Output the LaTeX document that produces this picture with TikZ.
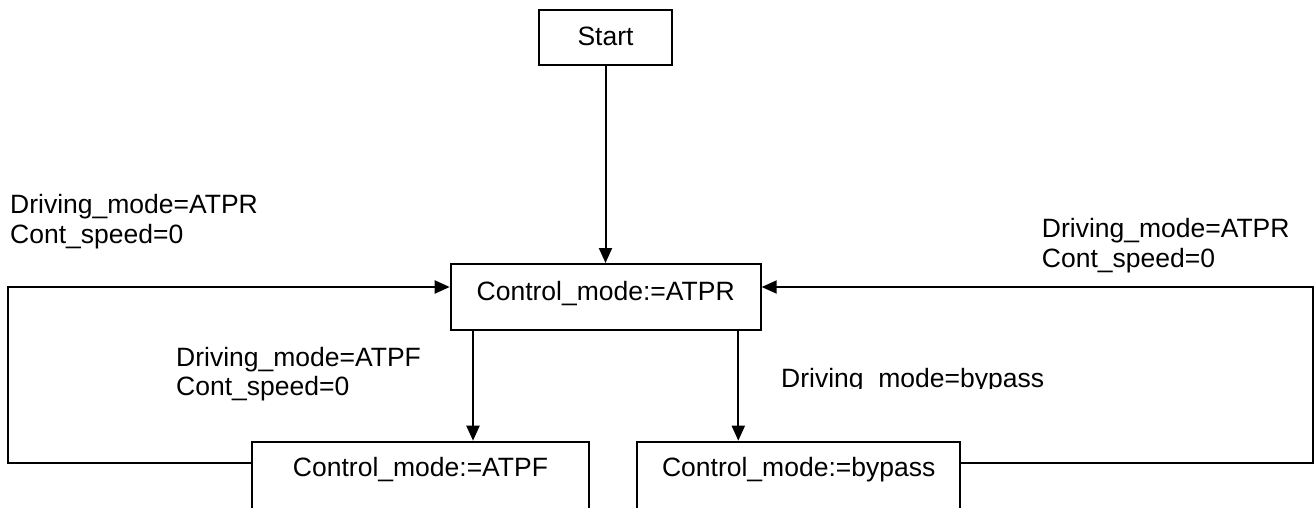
\documentclass[tikz,border=0pt]{standalone}
\usepackage{fontspec}
\setmainfont{Liberation Sans}
\usetikzlibrary{arrows.meta}

\begin{document}
\begin{tikzpicture}[x=1pt, y=-1pt,
  every node/.style={font=\fontsize{26.5}{30}\selectfont},
  statebox/.style={draw, line width=2pt, rectangle, inner sep=0pt, minimum height=66},
  lbl/.style={anchor=base west, inner sep=0pt},
  conn/.style={line width=2pt, -{Triangle[length=15pt,width=13pt]}}]

  % page frame
  \clip (0,0) rectangle (1314,507);
  \fill[white] (0,0) rectangle (1314,507);

  % states
  \node[statebox, minimum width=133, minimum height=55, text height=35, text depth=20]
    (start) at (605.5,37.5) {Start};
  \node[statebox, minimum width=310, text height=36, text depth=30]
    (atpr) at (605.7,297) {Control\_mode:=ATPR};
  \node[statebox, minimum width=337.6, minimum height=76, text height=35, text depth=41]
    (atpf) at (420.5,479.7) {Control\_mode:=ATPF};
  \node[statebox, minimum width=322.7, minimum height=76, text height=35, text depth=41]
    (bypass) at (798.7,479.7) {Control\_mode:=bypass};

  % transition guards
  \node[lbl] (gl1) at (10,213) {Driving\_mode=ATPR};
  \node[lbl] (gl2) at (10,243) {Cont\_speed=0};
  \node[lbl] (gr1) at (1041.7,237) {Driving\_mode=ATPR};
  \node[lbl] (gr2) at (1041.7,267) {Cont\_speed=0};
  \node[lbl] (gm1) at (176,366) {Driving\_mode=ATPF};
  \node[lbl] (gm2) at (176,395) {Cont\_speed=0};
  \begin{scope}
    \clip (770,350) rectangle (1100,388.5);
    \node[lbl] (gb) at (781,387) {Driving\_mode=bypass};
  \end{scope}

  % routing points
  \coordinate (da) at (473,0);
  \coordinate (db) at (738.3,0);
  \coordinate (lb) at (7.5,463.3);
  \coordinate (lt) at (7.5,287);
  \coordinate (rb) at (1312.5,463.3);
  \coordinate (rt) at (1312.5,287);

  % transitions
  \draw[conn] (start.south) -- (start.south |- atpr.north);
  \draw[conn] (atpr.south -| da) -- (atpf.north -| da);
  \draw[conn] (atpr.south -| db) -- (bypass.north -| db);
  \draw[conn] (atpf.west |- lb) -- (lb) -- (lt) -- (atpr.west |- lt);
  \draw[conn] (bypass.east |- rb) -- (rb) -- (rt) -- (atpr.east |- rt);
\end{tikzpicture}
\end{document}
